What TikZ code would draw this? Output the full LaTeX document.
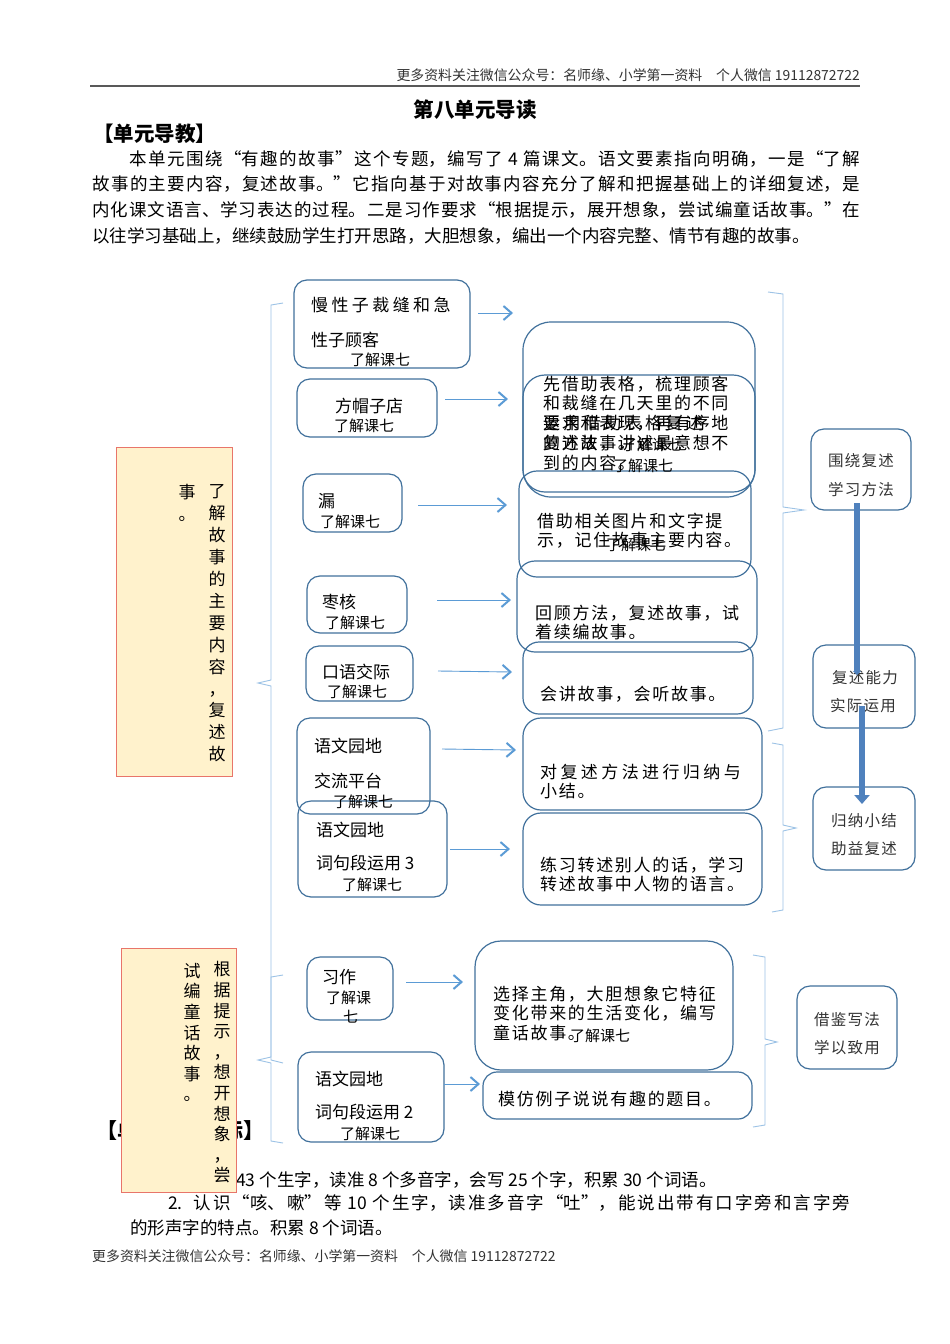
\documentclass[tikz,border=0pt]{standalone}
\usepackage{fontspec}
\setmainfont{Noto Sans CJK SC}
\usetikzlibrary{arrows.meta,calc}
\XeTeXlinebreaklocale "zh"
\XeTeXlinebreakskip=0pt plus 2pt
\definecolor{boxblue}{HTML}{41719C}
\definecolor{arrblue}{HTML}{5B9BD5}
\definecolor{brblue}{HTML}{9DC3E6}
\definecolor{tallfill}{HTML}{FFF2CC}
\definecolor{tallline}{HTML}{E8756A}
\definecolor{thickblue}{HTML}{4F81BD}
\newcommand\rb[6][rbox]{%
  \pgfmathsetmacro\rbw{#5-#3}\pgfmathsetmacro\rbh{#6-#4}%
  \pgfmathsetmacro\rbx{(#3+#5)/2}\pgfmathsetmacro\rby{(#4+#6)/2}%
  \node[#1,minimum width=\rbw pt,minimum height=\rbh pt] (#2) at (\rbx,\rby) {};}
\tikzset{
  rbox/.style={draw=boxblue, line width=1.2pt, rounded corners=13pt, inner sep=0pt},
  tallbox/.style={draw=tallline, fill=tallfill, line width=1pt, inner sep=0pt},
  arr/.style={draw=arrblue, line width=0.9pt, -{Straight Barb[length=8pt,width=14pt,line width=2pt]}},
  brk/.style={draw=brblue, line width=0.9pt},
  bigarr/.style={draw=thickblue, line width=5.5pt, -{Triangle[length=9pt,width=15pt]}},
  bigarrs/.style={draw=thickblue, line width=5.5pt, -{Triangle[length=4pt,width=8pt]}},
  tx/.style={anchor=west, inner sep=0pt, font=\fontsize{17}{19}\selectfont},
  txs/.style={anchor=west, inner sep=0pt, font=\fontsize{17}{19}\addfontfeatures{LetterSpace=10}},
  txw/.style={anchor=west, inner sep=0pt, font=\fontsize{17}{19}\addfontfeatures{LetterSpace=20}},
  sm/.style={anchor=west, inner sep=0pt, font=\fontsize{15}{16}\selectfont},
  rt/.style={inner sep=0pt, text=black!80, font=\fontsize{15.5}{17}\addfontfeatures{LetterSpace=8}},
  vt/.style={inner sep=0pt, align=center, font=\fontsize{17}{21.9}\selectfont},
  vt2/.style={inner sep=0pt, align=center, font=\fontsize{17}{20.6}\selectfont},
  hf/.style={inner sep=0pt, text=black!80, font=\fontsize{13.9}{14}\selectfont},
}
\begin{document}
\begin{tikzpicture}[x=1pt,y=-1pt]
\path[use as bounding box, fill=white] (0,0) rectangle (950,1344);

% ---------- header ----------
\node[hf, anchor=east] (hdr) at (860,75) {更多资料关注微信公众号：名师缘、小学第一资料\quad 个人微信 19112872722};
\draw[line width=1.4pt, black!65] (90,86) -- (860,86);
\node[inner sep=0pt, font=\bfseries\fontsize{20.5}{21}\selectfont] (title) at (475,110) {第八单元导读};
\node[anchor=west, inner sep=0pt, font=\bfseries\fontsize{20.5}{21}\selectfont] (sec1) at (93,134) {【单元导教】};
\node[anchor=north west, inner sep=0pt, text width=768pt, align=justify, font=\fontsize{17.5}{25.7}\selectfont] (para) at (92,150)
 {\hspace*{37pt}本单元围绕“有趣的故事”这个专题，编写了 4 篇课文。语文要素指向明确，一是“了解\linebreak
 故事的主要内容，复述故事。”它指向基于对故事内容充分了解和把握基础上的详细复述，是\linebreak
 内化课文语言、学习表达的过程。二是习作要求“根据提示，展开想象，尝试编童话故事。”在\linebreak
 以往学习基础上，继续鼓励学生打开思路，大胆想象，编出一个内容完整、情节有趣的故事。};

% ---------- bottom text (drawn first, covered by box) ----------
\node[anchor=east, inner sep=0pt, font=\bfseries\fontsize{21}{21}\selectfont] (sec2) at (265,1130) {【单元教学目标】};
\node[anchor=east, inner sep=0pt, font=\fontsize{17.5}{20}\selectfont] (g1a) at (236,1180) {1. 认识\,};
\node[anchor=west, inner sep=0pt, font=\fontsize{17.5}{20}\selectfont] (g1b) at (236,1180) {43 个生字，读准 8 个多音字，会写 25 个字，积累 30 个词语。};
\node[anchor=north west, inner sep=0pt, text width=720pt, align=justify, font=\fontsize{17.5}{25}\selectfont] (g2) at (130,1194)
 {\hspace*{38pt}2. 认识“咳、嗽”等 10 个生字，读准多音字“吐”，能说出带有口字旁和言字旁\linebreak
 的形声字的特点。积累 8 个词语。};
\node[hf, anchor=west] (ftr) at (92,1256) {更多资料关注微信公众号：名师缘、小学第一资料\quad 个人微信 19112872722};

% ---------- brackets ----------
\draw[brk] (283,303) -- (271,305) -- (271,680) -- (258,683) -- (271,686) -- (271,1060) -- (283,1063);
\draw[brk] (283,975) -- (271,977) -- (271,1057) -- (258,1060) -- (271,1063) -- (271,1141) -- (283,1143);
\draw[brk] (768,292) -- (783,294) -- (783,507) -- (804,510) -- (783,513) -- (783,728) -- (768,731);
\draw[brk] (772,743) -- (783,745) -- (783,825) -- (796,828) -- (783,831) -- (783,910) -- (772,912);
\draw[brk] (753,955) -- (765,957) -- (765,1039) -- (777,1042) -- (765,1045) -- (765,1125) -- (753,1127);

% ---------- tall boxes ----------
\rb[tallbox]{L1}{116}{447}{232}{776}
\rb[tallbox]{L2}{121}{948}{236}{1192}
\node[vt] (v1a) at (217,623.5) {了\\解\\故\\事\\的\\主\\要\\内\\容\\，\\复\\述\\故};
\node[vt] (v1b) at (187,503) {事\\。};
\node[vt2] (v2a) at (222,1072.5) {根\\据\\提\\示\\，\\想\\开\\想\\象\\，\\尝};
\node[vt2] (v2b) at (192,1032.5) {试\\编\\童\\话\\故\\事\\。};

% ---------- left boxes ----------
\rb{b1}{294}{280}{470}{368}
\rb{b2}{297}{379}{437}{437}
\rb{b3}{303}{474}{402}{532}
\rb{b4}{307}{576}{407}{633}
\rb{b5}{306}{646}{413}{701}
\rb{b6}{297}{718}{430}{814}
\rb{b7}{298}{801}{447}{897}
\rb{b8}{307}{957}{393}{1020}
\rb{b9}{298}{1052}{444}{1142}

\node[txw] (b1t1) at (311,305) {慢性子裁缝和急};
\node[tx] (b1t2) at (311,340) {性子顾客};
\node[sm] (b1t3) at (350,360) {了解课七};
\node[tx] (b2t1) at (335,406) {方帽子店};
\node[sm] (b2t2) at (334,426) {了解课七};
\node[tx] (b3t1) at (318,501) {漏};
\node[sm] (b3t2) at (320,522) {了解课七};
\node[tx] (b4t1) at (322,602) {枣核};
\node[sm] (b4t2) at (325,623) {了解课七};
\node[tx] (b5t1) at (322,672) {口语交际};
\node[sm] (b5t2) at (327,692) {了解课七};
\node[tx] (b6t1) at (314,746) {语文园地};
\node[tx] (b6t2) at (314,781) {交流平台};
\node[sm] (b6t3) at (333,802) {了解课七};
\node[tx] (b7t1) at (316,830) {语文园地};
\node[tx] (b7t2) at (316,863) {词句段运用 3};
\node[sm] (b7t3) at (342,885) {了解课七};
\node[tx] (b8t1) at (322,977) {习作};
\node[sm] (b8t2) at (326,998) {了解课};
\node[sm] (b8t3) at (343,1017) {七};
\node[tx] (b9t1) at (315,1079) {语文园地};
\node[tx] (b9t2) at (315,1112) {词句段运用 2};
\node[sm] (b9t3) at (340,1134) {了解课七};

% ---------- middle boxes ----------
\rb[rbox,rounded corners=28pt]{m1}{523}{322}{755}{497}
\rb[rbox,rounded corners=22pt]{m2}{523}{375}{755}{492}
\rb[rbox,rounded corners=18pt]{m3}{519}{471}{751}{577}
\rb[rbox,rounded corners=18pt]{m4}{517}{561}{757}{652}
\rb[rbox,rounded corners=16pt]{m5}{523}{642}{753}{714}
\rb[rbox,rounded corners=18pt]{m6}{523}{718}{762}{810}
\rb[rbox,rounded corners=18pt]{m7}{523}{813}{762}{905}
\rb[rbox,rounded corners=26pt]{m8}{475}{941}{733}{1070}
\rb[rbox,rounded corners=14pt]{m9}{483}{1072}{752}{1119}

\node[txs] (m2a1) at (543,384) {先借助表格，梳理顾客};
\node[txs] (m2a2) at (543,403) {和裁缝在几天里的不同};
\node[txs] (m2a3) at (543,423) {要求和表现，再有序地};
\node[txs] (m2a4) at (543,443) {复述故事。};
\node[sm] (m2a5) at (622,445) {了解课七};
\node[txw] (m2b1) at (543,423) {运用借助表格复述};
\node[txs] (m2b2) at (543,443) {的方法，讲述最意想不};
\node[txs] (m2b3) at (543,463) {到的内容。};
\node[sm] (m2b4) at (613,466) {了解课七};
\node[txs] (m3t1) at (537,521) {借助相关图片和文字提};
\node[txs] (m3t2) at (537,540) {示，记住故事主要内容。};
\node[sm] (m3t3) at (606,545) {了解课七};
\node[txs] (m4t1) at (535,613) {回顾方法，复述故事，试};
\node[txs] (m4t2) at (535,632) {着续编故事。};
\node[txs] (m5t1) at (540,694) {会讲故事，会听故事。};
\node[txw] (m6t1) at (540,772) {对复述方法进行归纳与};
\node[txs] (m6t2) at (540,791) {小结。};
\node[txs] (m7t1) at (540,865) {练习转述别人的话，学习};
\node[txs] (m7t2) at (540,884) {转述故事中人物的语言。};
\node[txs] (m8t1) at (493,994) {选择主角，大胆想象它特征};
\node[txs] (m8t2) at (493,1013) {变化带来的生活变化，编写};
\node[txs] (m8t3) at (493,1033) {童话故事。};
\node[sm] (m8t4) at (570,1036) {了解课七};
\node[txs] (m9t1) at (498,1099) {模仿例子说说有趣的题目。};

% ---------- right boxes ----------
\rb{r1}{811}{429}{911}{510}
\rb{r2}{813}{645}{915}{728}
\rb{r3}{813}{787}{915}{870}
\rb{r4}{797}{986}{897}{1069}
\node[rt] (r1t1) at (861,461) {围绕复述};
\node[rt] (r1t2) at (861,490) {学习方法};
\node[rt] (r2t1) at (865,678) {复述能力};
\node[rt] (r2t2) at (863,706) {实际运用};
\node[rt] (r3t1) at (864,821) {归纳小结};
\node[rt] (r3t2) at (864,849) {助益复述};
\node[rt] (r4t1) at (847,1020) {借鉴写法};
\node[rt] (r4t2) at (847,1048) {学以致用};

% ---------- thin arrows ----------
\coordinate (a1s) at (478,313); \coordinate (a1e) at (513,313);
\coordinate (a2s) at (445,399); \coordinate (a2e) at (508,399);
\coordinate (a3s) at (418,505); \coordinate (a3e) at (507,505);
\coordinate (a4s) at (437,600); \coordinate (a4e) at (511,600);
\coordinate (a5s) at (438,671); \coordinate (a5e) at (512,672);
\coordinate (a6s) at (442,749); \coordinate (a6e) at (516,750);
\coordinate (a7s) at (450,849); \coordinate (a7e) at (510,849);
\coordinate (a8s) at (406,982); \coordinate (a8e) at (463,982);
\coordinate (a9s) at (444,1084); \coordinate (a9e) at (480,1084);
\foreach \i in {1,...,9} {\draw[arr] (a\i s) -- (a\i e);}

% ---------- thick arrows ----------
\coordinate (t1s) at (857,503); \coordinate (t1e) at (857,675);
\coordinate (t2s) at (862,706); \coordinate (t2e) at (862,804);
\draw[bigarrs] (t1s) -- (t1e);
\draw[bigarr] (t2s) -- (t2e);
\end{tikzpicture}
\end{document}
